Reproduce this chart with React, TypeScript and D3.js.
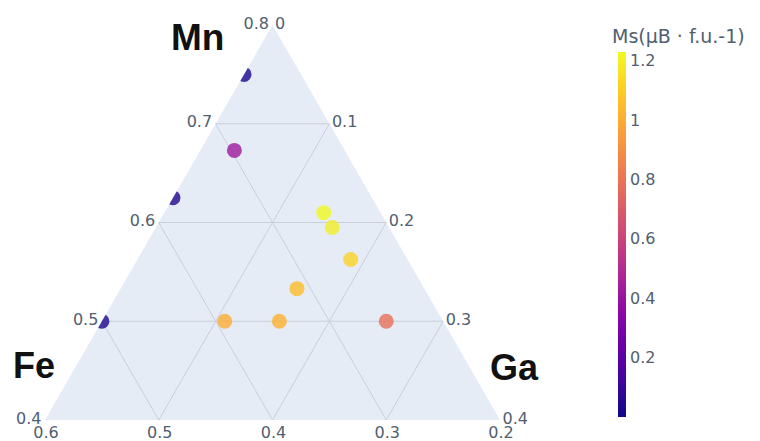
import React from "react";
import * as d3 from "d3";

// ---- data ----
const mn = [0.75, 0.673, 0.625, 0.5, 0.61, 0.595, 0.5625, 0.533, 0.5, 0.5, 0.5];
const fe = [0.25, 0.297, 0.375, 0.5, 0.25, 0.25, 0.25, 0.312, 0.344, 0.392, 0.25];
const ga = [0.0, 0.03, 0.0, 0.0, 0.14, 0.155, 0.1875, 0.155, 0.156, 0.108, 0.25];
const ms = [0.03, 0.42, 0.04, 0.03, 1.23, 1.2, 1.12, 1.05, 1.02, 1.0, 0.78];

const aTicks = [0.4, 0.5, 0.6, 0.7, 0.8];
const aTickLabels = ["0.4", "0.5", "0.6", "0.7", "0.8"];
const bTicks = [0.6, 0.5, 0.4, 0.3, 0.2];
const bTickLabels = ["0.6", "0.5", "0.4", "0.3", "0.2"];
const cTicks = [0, 0.1, 0.2, 0.3, 0.4];
const cTickLabels = ["0", "0.1", "0.2", "0.3", "0.4"];
const cbTicks = [0.2, 0.4, 0.6, 0.8, 1, 1.2];
const cbTickLabels = ["0.2", "0.4", "0.6", "0.8", "1", "1.2"];

const aMin = 0.4, bMin = 0.2, cMin = 0.0, span = 0.4;
const cMinVal = 0, cMaxVal = 1.23;

// ---- geometry ----
const A = [272.5, 25];
const B = [45, 420];
const C = [500, 420];

const ta = d3.scaleLinear().domain([aMin, aMin + span]).range([0, 1]);
const tb = d3.scaleLinear().domain([bMin, bMin + span]).range([0, 1]);
const tc = d3.scaleLinear().domain([cMin, cMin + span]).range([0, 1]);

function proj(a: number, b: number, c: number): [number, number] {
  const wa = ta(a), wb = tb(b), wc = tc(c);
  const s = wa + wb + wc;
  return [
    (A[0] * wa + B[0] * wb + C[0] * wc) / s,
    (A[1] * wa + B[1] * wb + C[1] * wc) / s,
  ];
}

const color = d3.scaleSequential(d3.interpolatePlasma).domain([cMinVal, cMaxVal]);
const cbY = d3.scaleLinear().domain([cMinVal, cMaxVal]).range([417, 52]);

const tickFill = "#506070";
const gridColor = "#c9d0db";
const font = "'DejaVu Sans', Verdana, sans-serif";
const titleFont = "'Liberation Sans', Arial, sans-serif";

export default function App() {
  const tri = d3.line()([A as [number, number], B as [number, number], C as [number, number]]) + "Z";

  // grid lines
  const grid: { x1: number; y1: number; x2: number; y2: number }[] = [];
  [0.5, 0.6, 0.7].forEach((a) => {
    const p1 = proj(a, 1 - a - cMin, cMin);
    const p2 = proj(a, bMin, 1 - a - bMin);
    grid.push({ x1: p1[0], y1: p1[1], x2: p2[0], y2: p2[1] });
  });
  [0.3, 0.4, 0.5].forEach((b) => {
    const p1 = proj(1 - b - cMin, b, cMin);
    const p2 = proj(aMin, b, 1 - b - aMin);
    grid.push({ x1: p1[0], y1: p1[1], x2: p2[0], y2: p2[1] });
  });
  [0.1, 0.2, 0.3].forEach((c) => {
    const p1 = proj(1 - c - bMin, bMin, c);
    const p2 = proj(aMin, 1 - c - aMin, c);
    grid.push({ x1: p1[0], y1: p1[1], x2: p2[0], y2: p2[1] });
  });

  const stops = d3.range(0, 1.0001, 0.05);

  return (
    <svg
      width={760}
      height={441}
      style={{ position: "absolute", left: 0, top: 0, background: "#fff" }}
      fontFamily={font}
    >
      <defs>
        <clipPath id="triClip">
          <path d={tri} />
        </clipPath>
        <linearGradient id="cbGrad" x1="0" y1="1" x2="0" y2="0">
          {stops.map((t, i) => (
            <stop key={i} offset={t} stopColor={d3.interpolatePlasma(t)} />
          ))}
        </linearGradient>
      </defs>

      <path d={tri} fill="#e5ecf6" />
      {grid.map((g, i) => (
        <line key={i} x1={g.x1} y1={g.y1} x2={g.x2} y2={g.y2} stroke={gridColor} strokeWidth={1} />
      ))}

      <g clipPath="url(#triClip)">
        {mn.map((a, i) => {
          const [x, y] = proj(a, fe[i], ga[i]);
          return <circle key={i} cx={x} cy={y} r={7.5} fill={color(ms[i])} opacity={0.8} />;
        })}
      </g>

      {/* a-axis ticks (left edge) */}
      {aTicks.map((a, i) => {
        const [x, y] = proj(a, 1 - a - cMin, cMin);
        return (
          <text key={i} x={x - 3.5} y={y - 2} textAnchor="end" dominantBaseline="central" fontSize={16} fill={tickFill}>
            {aTickLabels[i]}
          </text>
        );
      })}
      {/* b-axis ticks (bottom edge) */}
      {bTicks.map((b, i) => {
        const [x, y] = proj(aMin, b, 1 - b - aMin);
        return (
          <text key={i} x={x + 1} y={y + 12} textAnchor="middle" dominantBaseline="central" fontSize={16} fill={tickFill}>
            {bTickLabels[i]}
          </text>
        );
      })}
      {/* c-axis ticks (right edge) */}
      {cTicks.map((c, i) => {
        const [x, y] = proj(1 - c - bMin, bMin, c);
        return (
          <text key={i} x={x + 2.5} y={y - 2} textAnchor="start" dominantBaseline="central" fontSize={16} fill={tickFill}>
            {cTickLabels[i]}
          </text>
        );
      })}

      {/* axis titles */}
      <text x={171} y={50} fontSize={37} fontWeight="bold" fontFamily={titleFont} fill="#111">
        Mn
      </text>
      <text x={13} y={378} fontSize={36} fontWeight="bold" fontFamily={titleFont} fill="#111">
        Fe
      </text>
      <text x={490} y={380} fontSize={36} fontWeight="bold" fontFamily={titleFont} fill="#111">
        Ga
      </text>

      {/* colorbar */}
      <text x={612} y={43} fontSize={19} fill={tickFill}>
        Ms(μB · f.u.-1)
      </text>
      <rect x={618} y={cbY(cMaxVal)} width={8} height={cbY(cMinVal) - cbY(cMaxVal)} fill="url(#cbGrad)" />
      {cbTicks.map((v, i) => (
        <text key={i} x={630} y={cbY(v)} dominantBaseline="central" fontSize={16} fill={tickFill}>
          {cbTickLabels[i]}
        </text>
      ))}
    </svg>
  );
}
